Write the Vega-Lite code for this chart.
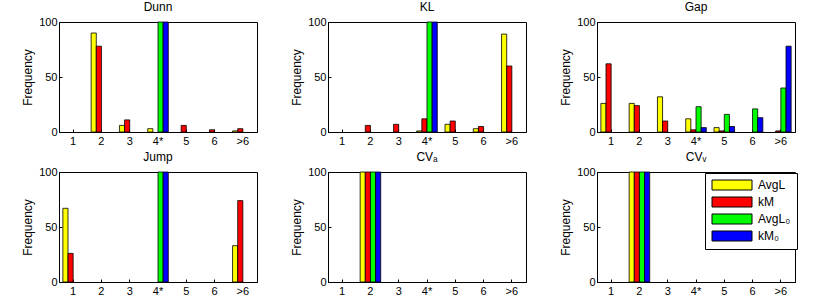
{
  "$schema": "https://vega.github.io/schema/vega-lite/v6.json",
  "padding": {"left": 21, "top": 0, "right": 5, "bottom": 5},
  "data": {"values": [
    {"p":"Dunn","c":"2","s":"AvgL","v":90},{"p":"Dunn","c":"2","s":"kM","v":78},
    {"p":"Dunn","c":"3","s":"AvgL","v":6},{"p":"Dunn","c":"3","s":"kM","v":11},
    {"p":"Dunn","c":"4*","s":"AvgL","v":3},{"p":"Dunn","c":"4*","s":"AvgL0","v":100},{"p":"Dunn","c":"4*","s":"kM0","v":100},
    {"p":"Dunn","c":"5","s":"kM","v":6},{"p":"Dunn","c":"6","s":"kM","v":2},
    {"p":"Dunn","c":">6","s":"AvgL","v":1},{"p":"Dunn","c":">6","s":"kM","v":3},
    {"p":"KL","c":"2","s":"kM","v":6},{"p":"KL","c":"3","s":"kM","v":7},
    {"p":"KL","c":"4*","s":"AvgL","v":1},{"p":"KL","c":"4*","s":"kM","v":12},{"p":"KL","c":"4*","s":"AvgL0","v":100},{"p":"KL","c":"4*","s":"kM0","v":100},
    {"p":"KL","c":"5","s":"AvgL","v":7},{"p":"KL","c":"5","s":"kM","v":10},
    {"p":"KL","c":"6","s":"AvgL","v":3},{"p":"KL","c":"6","s":"kM","v":5},
    {"p":"KL","c":">6","s":"AvgL","v":89},{"p":"KL","c":">6","s":"kM","v":60},
    {"p":"Gap","c":"1","s":"AvgL","v":26},{"p":"Gap","c":"1","s":"kM","v":62},
    {"p":"Gap","c":"2","s":"AvgL","v":26},{"p":"Gap","c":"2","s":"kM","v":24},
    {"p":"Gap","c":"3","s":"AvgL","v":32},{"p":"Gap","c":"3","s":"kM","v":10},
    {"p":"Gap","c":"4*","s":"AvgL","v":12},{"p":"Gap","c":"4*","s":"kM","v":2},{"p":"Gap","c":"4*","s":"AvgL0","v":23},{"p":"Gap","c":"4*","s":"kM0","v":4},
    {"p":"Gap","c":"5","s":"AvgL","v":4},{"p":"Gap","c":"5","s":"kM","v":1},{"p":"Gap","c":"5","s":"AvgL0","v":16},{"p":"Gap","c":"5","s":"kM0","v":5},
    {"p":"Gap","c":"6","s":"AvgL0","v":21},{"p":"Gap","c":"6","s":"kM0","v":13},
    {"p":"Gap","c":">6","s":"kM","v":1},{"p":"Gap","c":">6","s":"AvgL0","v":40},{"p":"Gap","c":">6","s":"kM0","v":78},
    {"p":"Jump","c":"1","s":"AvgL","v":67},{"p":"Jump","c":"1","s":"kM","v":26},
    {"p":"Jump","c":"4*","s":"AvgL0","v":100},{"p":"Jump","c":"4*","s":"kM0","v":100},
    {"p":"Jump","c":">6","s":"AvgL","v":33},{"p":"Jump","c":">6","s":"kM","v":74},
    {"p":"CVₐ","c":"2","s":"AvgL","v":100},{"p":"CVₐ","c":"2","s":"kM","v":100},{"p":"CVₐ","c":"2","s":"AvgL0","v":100},{"p":"CVₐ","c":"2","s":"kM0","v":100},
    {"p":"CVᵥ","c":"2","s":"AvgL","v":100},{"p":"CVᵥ","c":"2","s":"kM","v":100},{"p":"CVᵥ","c":"2","s":"AvgL0","v":100},{"p":"CVᵥ","c":"2","s":"kM0","v":100}
  ]},
  "facet": {"field": "p", "type": "nominal", "sort": ["Dunn","KL","Gap","Jump","CVₐ","CVᵥ"],
    "header": {"title": null, "labelFontSize": 12, "labelFont": "Liberation Sans", "labelPadding": 2, "labelColor": "#000"}},
  "columns": 3,
  "spacing": {"row": 3, "column": 32},
  "resolve": {"axis": {"x": "independent", "y": "independent"}},
  "spec": {
    "width": 198,
    "height": 110,
    "mark": {"type": "bar", "stroke": "#000", "strokeWidth": 0.8},
    "encoding": {
      "x": {"field": "c", "type": "nominal",
        "scale": {"domain": ["1","2","3","4*","5","6",">6"], "paddingInner": 0.273, "paddingOuter": 0.1365},
        "axis": {"title": null, "labelAngle": 0, "tickSize": -3, "labelPadding": 6}},
      "xOffset": {"field": "s", "type": "nominal", "scale": {"domain": ["AvgL","kM","AvgL0","kM0"], "paddingInner": 0, "paddingOuter": 0}},
      "y": {"field": "v", "type": "quantitative",
        "scale": {"domain": [0, 100]},
        "axis": {"title": "Frequency", "values": [0, 50, 100], "grid": false, "tickSize": -3, "labelPadding": 5, "titlePadding": 4}},
      "color": {"field": "s", "type": "nominal",
        "scale": {"domain": ["AvgL","kM","AvgL0","kM0"], "range": ["#ffff00","#ff0000","#00ff00","#0000ff"]},
        "legend": {"title": null, "orient": "none", "legendX": 646, "legendY": 151,
          "labelExpr": "datum.label == 'AvgL0' ? 'AvgL₀' : datum.label == 'kM0' ? 'kM₀' : datum.label",
          "symbolType": "M-4,-1H4V1H-4Z", "symbolSize": 100, "symbolOffset": 15,
          "symbolStrokeColor": "#000", "symbolStrokeWidth": 1,
          "strokeColor": "#000", "fillColor": "#fff", "padding": 6, "rowPadding": 3,
          "labelFontSize": 12, "labelFont": "Liberation Sans", "labelColor": "#000", "labelOffset": 20}}
    }
  },
  "config": {
    "view": {"stroke": "#000", "strokeWidth": 1},
    "axis": {"domainColor": "#000", "tickColor": "#000", "labelColor": "#000", "titleColor": "#000",
      "labelFont": "Liberation Sans", "titleFont": "Liberation Sans", "labelFontSize": 11, "titleFontSize": 12, "titleFontWeight": "normal"}
  }
}
